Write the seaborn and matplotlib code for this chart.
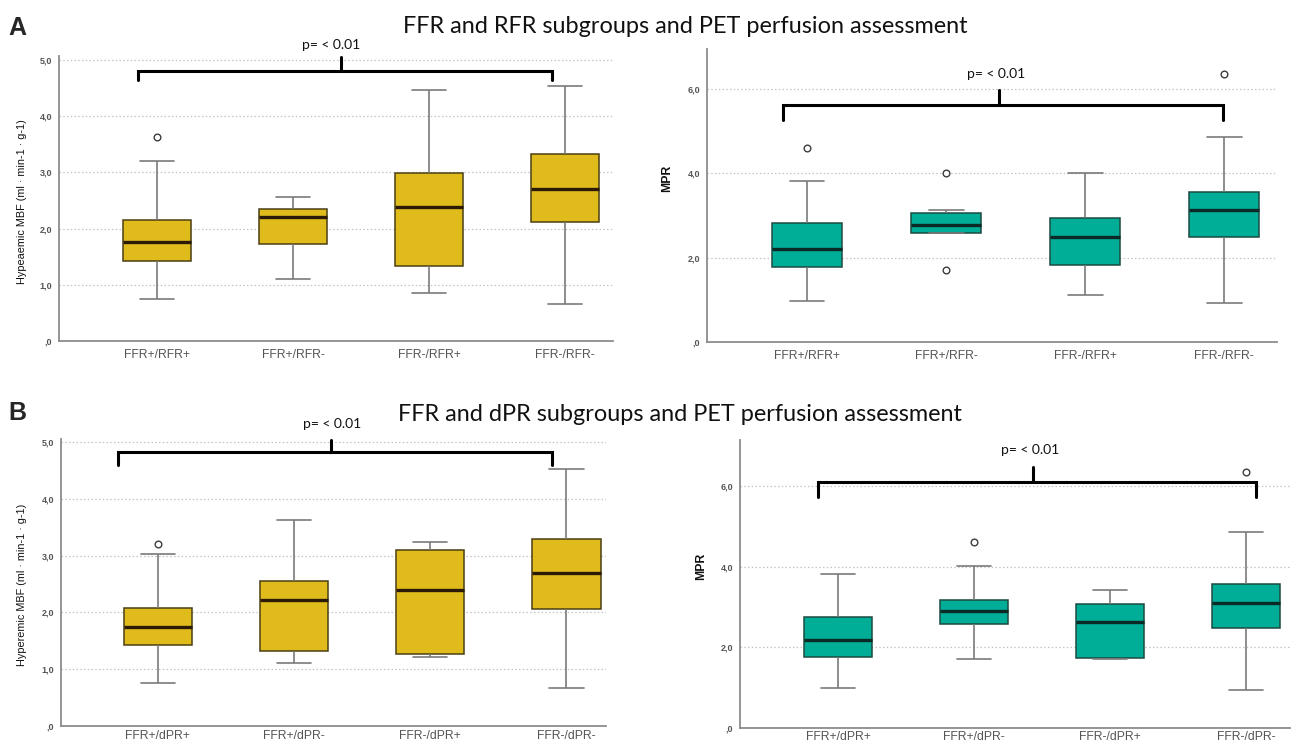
import numpy as np
import pandas as pd
import matplotlib
matplotlib.use("Agg")
import matplotlib.pyplot as plt
import seaborn as sns
from matplotlib.ticker import FuncFormatter, MultipleLocator

# ---- subgroup names -------------------------------------------------------
rfr_groups = ["FFR+/RFR+", "FFR+/RFR-", "FFR-/RFR+", "FFR-/RFR-"]
dpr_groups = ["FFR+/dPR+", "FFR+/dPR-", "FFR-/dPR+", "FFR-/dPR-"]

# ---- A: FFR/RFR, hyperaemic MBF (whisker low, Q1, median, Q3, whisker high)
a_mbf_low = [0.75, 1.11, 0.86, 0.66]
a_mbf_q1 = [1.43, 1.72, 1.34, 2.11]
a_mbf_med = [1.76, 2.20, 2.38, 2.70]
a_mbf_q3 = [2.15, 2.34, 2.99, 3.33]
a_mbf_high = [3.20, 2.56, 4.47, 4.53]
a_mbf_out = [[3.63], [], [], []]

# ---- A: FFR/RFR, MPR
a_mpr_low = [0.98, 2.58, 1.11, 0.93]
a_mpr_q1 = [1.79, 2.59, 1.83, 2.50]
a_mpr_med = [2.21, 2.77, 2.49, 3.12]
a_mpr_q3 = [2.82, 3.07, 2.95, 3.56]
a_mpr_high = [3.83, 3.13, 4.01, 4.87]
a_mpr_out = [[4.59], [4.02, 1.70], [], [6.36]]

# ---- B: FFR/dPR, hyperemic MBF
b_mbf_low = [0.75, 1.11, 1.21, 0.66]
b_mbf_q1 = [1.43, 1.32, 1.27, 2.06]
b_mbf_med = [1.75, 2.22, 2.39, 2.70]
b_mbf_q3 = [2.08, 2.56, 3.09, 3.29]
b_mbf_high = [3.02, 3.63, 3.23, 4.52]
b_mbf_out = [[3.20], [], [], []]

# ---- B: FFR/dPR, MPR
b_mpr_low = [1.00, 1.71, 1.70, 0.95]
b_mpr_q1 = [1.77, 2.57, 1.73, 2.48]
b_mpr_med = [2.17, 2.90, 2.62, 3.09]
b_mpr_q3 = [2.75, 3.18, 3.08, 3.56]
b_mpr_high = [3.83, 4.02, 3.43, 4.86]
b_mpr_out = [[], [4.60], [], [6.35]]

p_label = "p= < 0.01"

YELLOW = "#dfbc1c"
YELLOW_EDGE = "#4a3f14"
YELLOW_MED = "#2a1a06"
TEAL = "#00ae98"
TEAL_EDGE = "#1d4a42"
TEAL_MED = "#0b2a25"
WHISKER = "#7a7a7a"
SPINE = "#8c8c8c"


def summary_frame(groups, low, q1, med, q3, high):
    # five summary values per group -> quartiles reproduce exactly
    rows = []
    for g, vals in zip(groups, zip(low, q1, med, q3, high)):
        rows.extend((g, v) for v in vals)
    return pd.DataFrame(rows, columns=["group", "value"])


def outlier_frame(groups, outs):
    rows = [(g, v) for g, vs in zip(groups, outs) for v in vs]
    return pd.DataFrame(rows, columns=["group", "value"])


def spss_fmt(v, _pos):
    s = f"{v:.1f}".replace(".", ",")
    return s[1:] if s.startswith("0") else s


sns.set_style("white")
plt.rcParams["font.family"] = ["Liberation Sans", "DejaVu Sans"]

W, H = 1293, 746
fig = plt.figure(figsize=(W / 100, H / 100), dpi=100)


def px_axes(left, top, right, bottom):
    return fig.add_axes([left / W, 1 - bottom / H, (right - left) / W, (bottom - top) / H])


def panel(ax, groups, stats, outs, fill, edge, med_c, ymax, ystep, xlim,
          ylabel, ylabel_bold, ylabel_x, ylabel_y, bracket, ptext, xpad):
    df = summary_frame(groups, *stats)
    odf = outlier_frame(groups, outs)
    ax.set_axisbelow(True)
    sns.boxplot(data=df, x="group", y="value", order=groups, color=fill,
                saturation=1, width=0.5, whis=(0, 100), linecolor=edge,
                linewidth=1.1, fliersize=0, ax=ax,
                medianprops=dict(color=med_c, linewidth=2.4),
                whiskerprops=dict(color=WHISKER, linewidth=1.2),
                capprops=dict(color=WHISKER, linewidth=1.2))
    sns.stripplot(data=odf, x="group", y="value", order=groups, jitter=False,
                  color="white", edgecolor="#3c3c3c", linewidth=1.0, size=4.8,
                  ax=ax, zorder=5)
    ax.set_xlim(*xlim)
    ax.set_ylim(0, ymax)
    ax.yaxis.set_major_locator(MultipleLocator(ystep))
    ax.yaxis.set_major_formatter(FuncFormatter(spss_fmt))
    ax.grid(axis="y", linestyle=(0, (1.2, 1.8)), color="#c4c4c4", linewidth=0.9)
    ax.grid(axis="x", visible=False)
    for side in ("top", "right"):
        ax.spines[side].set_visible(False)
    for side in ("left", "bottom"):
        ax.spines[side].set_color(SPINE)
        ax.spines[side].set_linewidth(1.3)
    ax.tick_params(axis="both", length=0)
    ax.tick_params(axis="y", labelsize=6.5, labelcolor="#555555", pad=5)
    ax.tick_params(axis="x", labelsize=8.7, labelcolor="#555555", pad=xpad)
    for t in ax.get_yticklabels():
        t.set_fontweight("bold")
    ax.set_xlabel("")
    ax.set_ylabel(ylabel, fontsize=7.8 if not ylabel_bold else 8.8,
                  color="#111111",
                  fontweight="bold" if ylabel_bold else "normal")
    ax.yaxis.set_label_coords(ylabel_x, ylabel_y)

    x0, x1, xm, y_end, y_top, y_tick = bracket
    ax.plot([x0, x0, x1, x1], [y_end, y_top, y_top, y_end], color="black",
            lw=2.2, clip_on=False, solid_joinstyle="miter", zorder=6)
    ax.plot([xm, xm], [y_top, y_tick], color="black", lw=2.2,
            clip_on=False, zorder=6)
    px, py = ptext
    ax.text(px, py, p_label, ha="center", va="center", fontsize=10,
            family="Lato", color="#111111")


# A left: hyperaemic MBF, FFR vs RFR
ax = px_axes(59, 56, 613, 341)
panel(ax, rfr_groups,
      (a_mbf_low, a_mbf_q1, a_mbf_med, a_mbf_q3, a_mbf_high), a_mbf_out,
      YELLOW, YELLOW_EDGE, YELLOW_MED, 5.07, 1.0, (-0.72, 3.35),
      "Hypeaemic MBF (ml · min-1 · g-1)", False, -0.058, 0.49,
      (-0.14, 2.90, 1.35, 4.64, 4.80, 5.05), (1.28, 5.27), 6)

# A right: MPR, FFR vs RFR
ax = px_axes(707, 49, 1277, 342)
panel(ax, rfr_groups,
      (a_mpr_low, a_mpr_q1, a_mpr_med, a_mpr_q3, a_mpr_high), a_mpr_out,
      TEAL, TEAL_EDGE, TEAL_MED, 6.95, 2.0, (-0.72, 3.38),
      "MPR", True, -0.06, 0.56,
      (-0.17, 2.99, 1.38, 5.26, 5.61, 5.97), (1.36, 6.36), 6)

# B left: hyperemic MBF, FFR vs dPR
ax = px_axes(61, 439, 606, 726)
panel(ax, dpr_groups,
      (b_mbf_low, b_mbf_q1, b_mbf_med, b_mbf_q3, b_mbf_high), b_mbf_out,
      YELLOW, YELLOW_EDGE, YELLOW_MED, 5.05, 1.0, (-0.71, 3.29),
      "Hyperemic MBF (ml · min-1 · g-1)", False, -0.062, 0.49,
      (-0.29, 2.89, 1.27, 4.60, 4.82, 5.03), (1.28, 5.32), 3)

# B right: MPR, FFR vs dPR
ax = px_axes(740, 440, 1290, 728)
panel(ax, dpr_groups,
      (b_mpr_low, b_mpr_q1, b_mpr_med, b_mpr_q3, b_mpr_high), b_mpr_out,
      TEAL, TEAL_EDGE, TEAL_MED, 7.14, 2.0, (-0.72, 3.32),
      "MPR", True, -0.06, 0.56,
      (-0.15, 3.07, 1.43, 5.73, 6.11, 6.46), (1.41, 6.89), 2)

# panel letters and section titles
fig.text(8 / W, 1 - 35 / H, "A", fontsize=18, fontweight="bold",
         family="Liberation Sans", ha="left", va="baseline")
fig.text(8 / W, 1 - 420 / H, "B", fontsize=18, fontweight="bold",
         family="Liberation Sans", ha="left", va="baseline")
fig.text(685 / W, 1 - 33 / H, "FFR and RFR subgroups and PET perfusion assessment",
         fontsize=16.9, family="Lato", ha="center", va="baseline", color="#111111")
fig.text(680 / W, 1 - 421 / H, "FFR and dPR subgroups and PET perfusion assessment",
         fontsize=16.9, family="Lato", ha="center", va="baseline", color="#111111")

fig.savefig("out.png", dpi=100, facecolor="white")
